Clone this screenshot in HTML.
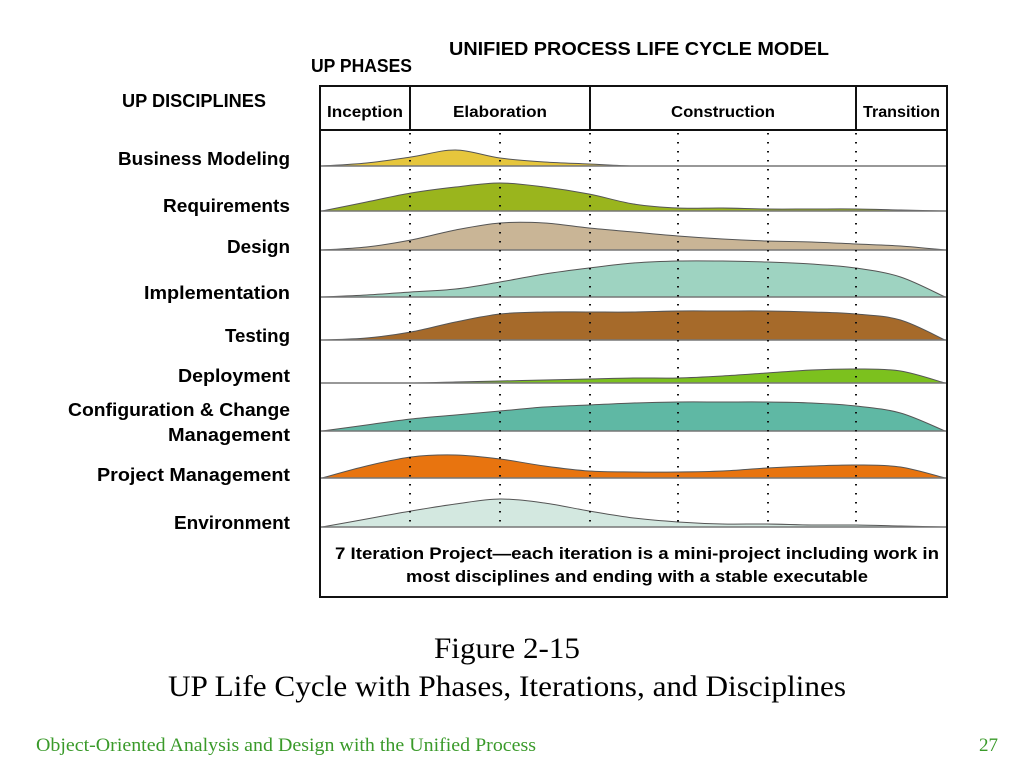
<!DOCTYPE html>
<html><head><meta charset="utf-8"><style>
html,body{margin:0;padding:0;background:#fff;width:1024px;height:768px;overflow:hidden}
svg{display:block}
</style></head><body>
<svg id="chart" width="1024" height="768" xmlns="http://www.w3.org/2000/svg" font-family="'Liberation Sans', sans-serif">
<text x="449" y="55" font-size="18" font-weight="bold" textLength="380" lengthAdjust="spacingAndGlyphs">UNIFIED PROCESS LIFE CYCLE MODEL</text>
<text x="311" y="72" font-size="18" font-weight="bold" textLength="101" lengthAdjust="spacingAndGlyphs">UP PHASES</text>
<text x="122" y="107" font-size="18" font-weight="bold" textLength="144" lengthAdjust="spacingAndGlyphs">UP DISCIPLINES</text>
<g id="plot"></g>
<rect x="320" y="86" width="627" height="511" fill="none" stroke="#111" stroke-width="2"/>
<line x1="320" y1="130" x2="947" y2="130" stroke="#111" stroke-width="2"/>
<text x="637" y="559" font-size="17" font-weight="bold" text-anchor="middle" textLength="604" lengthAdjust="spacingAndGlyphs">7 Iteration Project—each iteration is a mini-project including work in</text>
<text x="637" y="582" font-size="17" font-weight="bold" text-anchor="middle" textLength="462" lengthAdjust="spacingAndGlyphs">most disciplines and ending with a stable executable</text>
<text x="507" y="658" font-size="30" font-family="'Liberation Serif', serif" text-anchor="middle" textLength="146" lengthAdjust="spacingAndGlyphs">Figure 2-15</text>
<text x="507" y="696" font-size="30" font-family="'Liberation Serif', serif" text-anchor="middle" textLength="678" lengthAdjust="spacingAndGlyphs">UP Life Cycle with Phases, Iterations, and Disciplines</text>
<text x="36" y="751" font-size="19" font-family="'Liberation Serif', serif" fill="#3a9a2a" textLength="500" lengthAdjust="spacingAndGlyphs">Object-Oriented Analysis and Design with the Unified Process</text>
<text x="998" y="751" font-size="19" font-family="'Liberation Serif', serif" fill="#3a9a2a" text-anchor="end">27</text>
</svg>
<script>
const phases = ["Inception","Elaboration","Construction","Transition"];
const phaseIterations = [1,2,3,1];
const disciplines = ["Business Modeling","Requirements","Design","Implementation","Testing","Deployment","Configuration & Change|Management","Project Management","Environment"];
const bizModeling = [0,3,9,16,8,4,2,0,0,0,0,0,0,0,0];
const requirements = [0,9,18,24,28,24,17,7,3,3,2,2,2,1,0];
const design = [0,3,10,20,27,27,22,18,14,11,9,8,6,4,0];
const implementation = [0,2,5,8,15,23,29,34,36,36,35,33,29,20,0];
const testing = [0,2,8,18,26,28,28,28,29,29,29,28,26,20,0];
const deployment = [0,0,0,1,2,3,4,5,5,7,10,13,14,12,0];
const configMgmt = [0,6,12,16,20,24,26,28,29,29,29,28,25,18,0];
const projectMgmt = [0,12,21,23,19,12,7,6,6,7,10,12,13,11,0];
const environment = [0,8,16,23,28,24,16,9,5,3,3,2,2,1,0];
const series = [bizModeling,requirements,design,implementation,testing,deployment,configMgmt,projectMgmt,environment];

const NS="http://www.w3.org/2000/svg";
const plot=document.getElementById('plot');
const X0=322, X1=945, iterCount=7;
const colors=["#e6c63c","#9ab51d","#c9b596","#9ed3c1","#a66a2a","#7cc11e","#5fb8a4","#e8740f","#d3e8e0"];
const baselines=[166,211,250,297,340,383,431,478,527];
const labelY=[165,212,253,299,342,382,416,481,529];
const labelW=[[172],[127],[63],[146],[65],[112],[222,122],[193],[116]];
const phaseW=[76,94,104,77];
function xOf(i,n){return X0+(X1-X0)*i/(n-1);}
function iterX(k){return 320+90*k - (k>=6?2:0) - (k>=4?2:0);}
function mk(tag,attrs){const e=document.createElementNS(NS,tag);for(const k in attrs)e.setAttribute(k,attrs[k]);return e;}

// phase headers
let acc=0;
phases.forEach((p,i)=>{
  const a=acc, b=acc+phaseIterations[i]; acc=b;
  const xa=a===0?320:iterX(a), xb=b===iterCount?947:iterX(b);
  const t=mk('text',{x:(xa+xb)/2,y:117,'font-size':16,'font-weight':'bold','text-anchor':'middle',textLength:phaseW[i],lengthAdjust:'spacingAndGlyphs'});
  t.textContent=p;
  
  
  plot.appendChild(t);
  if(b<iterCount){
    const l=mk('line',{x1:xb,y1:86,x2:xb,y2:130,stroke:'#111','stroke-width':2});
    
    
    plot.appendChild(l);
  }
});
// curves
series.forEach((vals,r)=>{
  const base=baselines[r], n=vals.length;
  const pts=vals.map((v,i)=>[xOf(i,n),base-v]);
  let d=`M${pts[0][0]},${pts[0][1]}`;
  for(let i=0;i<n-1;i++){
    const p0=pts[Math.max(0,i-1)],p1=pts[i],p2=pts[i+1],p3=pts[Math.min(n-1,i+2)];
    const c1=[p1[0]+(p2[0]-p0[0])/6,p1[1]+(p2[1]-p0[1])/6];
    const c2=[p2[0]-(p3[0]-p1[0])/6,p2[1]-(p3[1]-p1[1])/6];
    d+=` C${c1[0]},${Math.min(base,c1[1])} ${c2[0]},${Math.min(base,c2[1])} ${p2[0]},${p2[1]}`;
  }
  const area=mk('path',{d:d+` L${X1},${base} L${X0},${base} Z`,fill:colors[r],stroke:'#555','stroke-width':1});
  
  
  plot.appendChild(area);
  const bl=mk('line',{x1:320,y1:base,x2:947,y2:base,stroke:'#777','stroke-width':1.5});
  
  
  plot.appendChild(bl);
  const parts=disciplines[r].split('|');
  parts.forEach((s,j)=>{
    const t=mk('text',{x:290,y:labelY[r]+j*25,'font-size':18,'font-weight':'bold','text-anchor':'end',textLength:labelW[r][j],lengthAdjust:'spacingAndGlyphs'});
    t.textContent=s;
    
    
    plot.appendChild(t);
  });
});
// dotted iteration lines on top
for(let k=1;k<iterCount;k++){
  const l=mk('line',{x1:iterX(k),y1:133,x2:iterX(k),y2:527,stroke:'#111','stroke-width':2,'stroke-dasharray':'1.5,7.5'});
  
  
  plot.appendChild(l);
}
</script>
</body></html>
